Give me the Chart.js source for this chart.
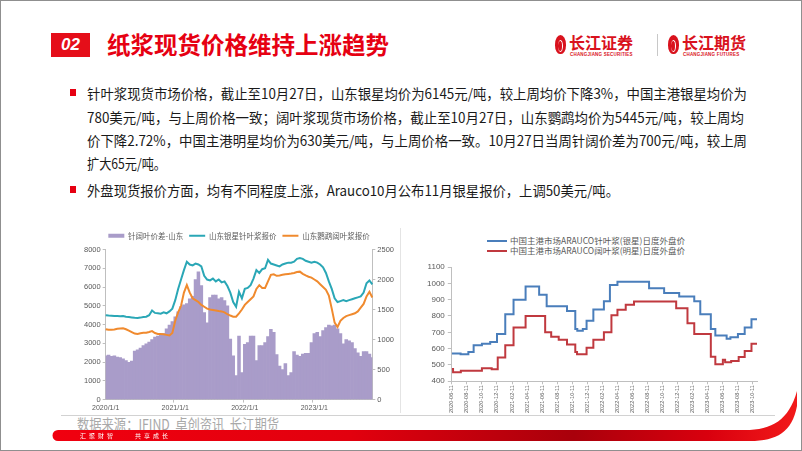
<!DOCTYPE html>
<html>
<head>
<meta charset="utf-8">
<script src="https://cdn.jsdelivr.net/npm/chart.js@4.4.0/dist/chart.umd.min.js"></script>
<style>
html, body { margin: 0; padding: 0; background: #fff; }
body { width: 802px; height: 451px; position: relative; overflow: hidden; font-family: "Noto Sans CJK SC", "Noto Sans", sans-serif; }
.frame { position: absolute; left: 0; top: 0; width: 800px; height: 449px; border: 1px solid #8f8f8f; }
.num { position: absolute; left: 51px; top: 33px; width: 39px; height: 24px; background: #e50e19; color: #fff;
       font: italic bold 17px "Liberation Sans", sans-serif; line-height: 24px; text-align: center; }
.title { position: absolute; left: 107px; top: 29px; font-size: 23.5px; font-weight: bold; color: #e60012; line-height: 30px; white-space: nowrap; }
.logo { position: absolute; top: 33px; height: 24px; }
.logo .icon { position: absolute; left: 0; top: 2px; width: 11px; height: 19px; border-radius: 50% 50% 45% 45%; background: #d9121d; }
.logo .icon:after { content: ""; position: absolute; left: 3px; top: 5px; width: 4px; height: 10px; border-radius: 50%; border: 1px solid #fff; border-left: none; }
.logo .cn { position: absolute; left: 14px; top: -2px; font-size: 16px; font-weight: bold; color: #d9121d; white-space: nowrap; line-height: 22px; }
.logo .en { position: absolute; left: 15px; top: 19px; font: bold 4.5px "Liberation Sans", sans-serif; color: #d9121d; white-space: nowrap; letter-spacing: 0.2px; }
.sep { position: absolute; left: 657px; top: 34px; width: 1px; height: 22px; background: #c8c8c8; }
.line { position: absolute; left: 87px; font-size: 14px; color: #1a1a1a; white-space: nowrap; line-height: 20px; transform-origin: 0 50%; }
.bullet { position: absolute; left: 70px; width: 6px; height: 7px; background: #e60012; }
#leftChart { position: absolute; left: 80px; top: 226px; }
#rightChart { position: absolute; left: 400px; top: 256px; }
.rbox { position: absolute; left: 400px; top: 228px; width: 1px; height: 185px; background: #e4e4e4; }
.rlegend { position: absolute; left: 487px; font-size: 8.5px; color: #595959; white-space: nowrap; line-height: 10px; }
.rlegend i { display: inline-block; width: 20px; height: 2px; vertical-align: middle; margin-right: 3px; position: relative; top: -1px; }
.rule { position: absolute; left: 61px; top: 415px; width: 714px; height: 1px; background: #d2d2d2; }
.source { position: absolute; left: 77px; top: 414px; font-size: 15px; color: #a9a9a9; white-space: nowrap; line-height: 20px; transform-origin: 0 50%; }
.band { position: absolute; left: 0; top: 380px; }
.motto { position: absolute; top: 432px; font-size: 6px; color: #fff; letter-spacing: 3px; white-space: nowrap; line-height: 8px; }
</style>
</head>
<body>
<div class="frame"></div>

<div class="num">02</div>
<div class="title">纸浆现货价格维持上涨趋势</div>
<div class="logo" style="left:555px"><div class="icon"></div><div class="cn">长江证券</div><div class="en">CHANGJIANG SECURITIES</div></div>
<div class="sep"></div>
<div class="logo" style="left:668px"><div class="icon"></div><div class="cn">长江期货</div><div class="en">CHANGJIANG FUTURES</div></div>

<div class="bullet" style="top:89px"></div>
<div class="line" data-w="660" style="top:83px">针叶浆现货市场价格，截止至10月27日，山东银星均价为6145元/吨，较上周均价下降3%，中国主港银星均价为</div>
<div class="line" data-w="657" style="top:107px">780美元/吨，与上周价格一致；阔叶浆现货市场价格，截止至10月27日，山东鹦鹉均价为5445元/吨，较上周均</div>
<div class="line" data-w="660" style="top:130px">价下降2.72%，中国主港明星均价为630美元/吨，与上周价格一致。10月27日当周针阔价差为700元/吨，较上周</div>
<div class="line" data-w="79" style="top:153px">扩大65元/吨。</div>
<div class="bullet" style="top:186px"></div>
<div class="line" data-w="532" style="top:180px">外盘现货报价方面，均有不同程度上涨，Arauco10月公布11月银星报价，上调50美元/吨。</div>

<canvas id="leftChart" width="320" height="187"></canvas>

<div class="rbox"></div>
<div class="rlegend" style="top:235px"><i style="background:#4a7ebb"></i>中国主港市场ARAUCO针叶浆(银星)日度外盘价</div>
<div class="rlegend" style="top:245px"><i style="background:#c0393f"></i>中国主港市场ARAUCO阔叶浆(明星)日度外盘价</div>
<canvas id="rightChart" width="375" height="158"></canvas>

<div class="rule"></div>
<div class="source" data-w="202">数据来源：IFIND&nbsp; 卓创资讯&nbsp; 长江期货</div>

<svg class="band" width="802" height="71" viewBox="0 380 802 71">
  <defs>
    <linearGradient id="bandGrad" x1="0" y1="0" x2="1" y2="0">
      <stop offset="0" stop-color="#f0000f"/>
      <stop offset="0.4" stop-color="#e2000e"/>
      <stop offset="0.7" stop-color="#a9000b"/>
      <stop offset="0.88" stop-color="#d9000e"/>
      <stop offset="1" stop-color="#f21a1a"/>
    </linearGradient>
  </defs>
  <path d="M58 430 H745 C772 430 789 420 797 391 L797 406 C792 432 777 441 750 441 H58 A5.5 5.5 0 0 1 58 430 Z" fill="url(#bandGrad)"/>
</svg>
<div class="motto" style="left:80px">汇聚财智</div>
<div class="motto" style="left:135px">共享成长</div>

<script>
// left chart: Shandong spot prices, half-monthly
var leftDates = [
  '2020/1/1','2020/1/16','2020/2/1','2020/2/16','2020/3/1','2020/3/16','2020/4/1','2020/4/16','2020/5/1','2020/5/16','2020/6/1','2020/6/16',
  '2020/7/1','2020/7/16','2020/8/1','2020/8/16','2020/9/1','2020/9/16','2020/10/1','2020/10/16','2020/11/1','2020/11/16','2020/12/1','2020/12/16',
  '2021/1/1','2021/1/16','2021/2/1','2021/2/16','2021/3/1','2021/3/16','2021/4/1','2021/4/16','2021/5/1','2021/5/16','2021/6/1','2021/6/16',
  '2021/7/1','2021/7/16','2021/8/1','2021/8/16','2021/9/1','2021/9/16','2021/10/1','2021/10/16','2021/11/1','2021/11/16','2021/12/1','2021/12/16',
  '2022/1/1','2022/1/16','2022/2/1','2022/2/16','2022/3/1','2022/3/16','2022/4/1','2022/4/16','2022/5/1','2022/5/16','2022/6/1','2022/6/16',
  '2022/7/1','2022/7/16','2022/8/1','2022/8/16','2022/9/1','2022/9/16','2022/10/1','2022/10/16','2022/11/1','2022/11/16','2022/12/1','2022/12/16',
  '2023/1/1','2023/1/16','2023/2/1','2023/2/16','2023/3/1','2023/3/16','2023/4/1','2023/4/16','2023/5/1','2023/5/16','2023/6/1','2023/6/16',
  '2023/7/1','2023/7/16','2023/8/1','2023/8/16','2023/9/1','2023/9/16','2023/10/1','2023/10/16','2023/10/27'
];
var leftTicks = ['2020/1/1', '2021/1/1', '2022/1/1', '2023/1/1'];

// 针阔叶价差-山东 (right axis)
var spreadSD = [
  730, 740, 720, 730, 710, 700, 680, 650, 620, 640, 810, 830,
  860, 900, 930, 960, 1000, 1040, 1060, 1080, 1100, 1180, 1240, 1300,
  1380, 1460, 1550, 1580, 1600, 1680, 1720, 2000, 2130, 1900, 1450, 1280,
  1700, 1740, 1740, 1680, 1700, 1650, 1560, 1010, 730, 400, 1060, 450,
  920, 950, 1060, 1060, 650, 900, 900, 950, 1050, 1170, 1120, 750,
  560, 500, 600, 400, 450, 800, 740, 720, 760, 770, 770, 950,
  1100, 1120, 1050, 1150, 1200, 1240, 1230, 1240, 1180, 1100, 930, 1000,
  980, 950, 850, 780, 720, 800, 800, 760, 700
];
// 山东银星针叶浆报价
var needleSD = [
  4500, 4480, 4470, 4450, 4460, 4440, 4450, 4420, 4400, 4380, 4360, 4350,
  4370, 4400, 4420, 4500, 4750, 4620, 4600, 4580, 4650, 4600, 4700, 4850,
  5300, 5900, 6400, 6900, 7350, 7200, 7150, 7250, 7200, 7100, 6600, 6400,
  6350, 6450, 6300, 6400, 6250, 6300, 6050, 5700, 5200, 4950, 5750, 5400,
  5900, 5950, 6100, 6450, 6900, 6750, 6950, 7000, 7450, 7250, 7200, 7150,
  7100, 7200, 7250, 7300, 7300, 7350, 7500, 7550, 7500, 7400, 7350, 7300,
  7350, 7300, 7200, 7050, 6750, 6300, 5900, 5400, 5200, 5250, 5300, 5250,
  5300, 5350, 5400, 5450, 5500, 5700, 6200, 6350, 6145
];
// 山东鹦鹉阔叶浆报价
var hardSD = [
  3750, 3720, 3720, 3740, 3780, 3790, 3800, 3750, 3680, 3600, 3520, 3500,
  3540, 3560, 3560, 3600, 3650, 3550, 3500, 3500, 3480, 3450, 3420, 3550,
  4200, 4650, 5000, 5700, 6100, 5700, 5400, 5300, 5200, 5050, 4950, 4850,
  4800, 4780, 4750, 4720, 4700, 4650, 4550, 4480, 4420, 4420, 4600, 4800,
  5050, 5200, 5350, 5500, 5900, 6100, 5950, 5950, 6300, 6650, 6680, 6600,
  6620, 6650, 6680, 6700, 6720, 6750, 6800, 6820, 6700, 6620, 6550, 6500,
  6400, 6300, 6150, 6000, 5850, 5550, 4850, 4100, 3870, 4200, 4350, 4450,
  4500, 4550, 4600, 4700, 4900, 5100, 5500, 5750, 5445
];

// right chart: Arauco CFR China, step changes (date the new price starts)
var needleDates = ['2020-06-11','2020-07-16','2020-08-17','2020-09-08','2020-10-11','2020-11-14','2020-12-11','2021-01-14','2021-02-17',
  '2021-04-05','2021-05-29','2021-06-29','2021-09-20','2021-10-23','2021-11-01','2021-11-23','2021-12-08','2022-01-05','2022-02-17',
  '2022-03-11','2022-04-11','2022-08-17','2022-10-17','2022-12-17','2023-02-17','2023-03-11','2023-04-23','2023-05-11','2023-06-26',
  '2023-07-11','2023-08-11','2023-09-08','2023-10-05','2023-10-27'];
var needleCFR = [570, 565, 580, 620, 630, 640, 690, 810, 900,
  980, 930, 860, 830, 720, 710, 720, 770, 840, 890,
  990, 1010, 970, 940, 920, 890, 810, 720, 680, 660,
  670, 690, 730, 780, 780];
var hardDates = ['2020-06-11','2020-06-16','2020-07-17','2020-10-11','2020-11-20','2020-12-14','2021-01-14','2021-02-17','2021-04-05',
  '2021-06-23','2021-07-17','2021-08-17','2021-09-20','2021-10-23','2021-10-30','2021-12-08','2022-01-05','2022-02-17','2022-03-17',
  '2022-04-11','2022-05-14','2022-06-17','2022-12-05','2023-01-20','2023-02-17','2023-04-23','2023-05-11','2023-06-11','2023-06-20',
  '2023-07-14','2023-08-14','2023-09-08','2023-10-05','2023-10-27'];
var hardCFR = [475, 455, 465, 480, 473, 545, 620, 730, 800,
  700, 672, 655, 625, 580, 565, 605, 655, 700, 805,
  838, 868, 888, 848, 755, 690, 550, 505, 532, 517,
  524, 549, 585, 630, 630];
var rightTicks = ['2020-06-11','2020-08-11','2020-10-11','2020-12-11','2021-02-11','2021-04-11','2021-06-11','2021-08-11','2021-10-11',
  '2021-12-11','2022-02-11','2022-04-11','2022-06-11','2022-08-11','2022-10-11','2022-12-11','2023-02-11','2023-04-11','2023-06-11',
  '2023-08-11','2023-10-11'];

// months after 2020-06-11
function monthsFrom(d) {
  var p = d.split('-');
  return (+p[0] - 2020) * 12 + (+p[1] - 6) + (+p[2] - 11) / 30;
}
function toPoints(dates, vals) {
  return dates.map(function (d, i) { return {x: monthsFrom(d), y: vals[i]}; });
}
function plainNum(v) { return String(v); }

Chart.defaults.font.family = '"Liberation Sans", "Noto Sans CJK SC", sans-serif';
Chart.defaults.color = '#595959';

var legendStyles = ['rect', 'line', 'line'];

new Chart(document.getElementById('leftChart'), {
    type: 'bar',
    data: {
        labels: leftDates,
        datasets: [{
            type: 'bar',
            label: '针阔叶价差-山东',
            data: spreadSD,
            yAxisID: 'y1',
            backgroundColor: '#a99cc9',
            barPercentage: 1,
            categoryPercentage: 1,
            order: 2
        }, {
            type: 'line',
            label: '山东银星针叶浆报价',
            data: needleSD,
            yAxisID: 'y',
            borderColor: '#2aa7b6',
            backgroundColor: '#2aa7b6',
            borderWidth: 2,
            pointRadius: 0,
            tension: 0,
            order: 1
        }, {
            type: 'line',
            label: '山东鹦鹉阔叶浆报价',
            data: hardSD,
            yAxisID: 'y',
            borderColor: '#f08a2e',
            backgroundColor: '#f08a2e',
            borderWidth: 2,
            pointRadius: 0,
            tension: 0,
            order: 1
        }]
    },
    options: {
        responsive: false,
        animation: false,
        layout: {padding: {left: 2, right: 4, top: 0, bottom: 0}},
        plugins: {
            tooltip: {enabled: false},
            legend: {
                labels: {
                    usePointStyle: true,
                    pointStyleWidth: 16,
                    boxHeight: 4,
                    padding: 6,
                    color: '#595959',
                    font: {size: 7.5, family: '"Noto Sans CJK SC", sans-serif'},
                    sort: function (a, b) { return a.datasetIndex - b.datasetIndex; },
                    generateLabels: function (chart) {
                        var items = Chart.defaults.plugins.legend.labels.generateLabels(chart);
                        items.forEach(function (it) {
                            it.pointStyle = legendStyles[it.datasetIndex];
                            if (it.datasetIndex === 0) it.lineWidth = 0;
                        });
                        return items;
                    }
                }
            }
        },
        scales: {
            x: {
                offset: false,
                border: {color: '#bfbfbf'},
                grid: {
                    drawOnChartArea: false,
                    tickLength: 3,
                    color: function (c) {
                        return leftTicks.indexOf(leftDates[c.index]) >= 0 ? '#bfbfbf' : 'rgba(0,0,0,0)';
                    }
                },
                ticks: {
                    autoSkip: false,
                    maxRotation: 0,
                    padding: 1,
                    font: {size: 7},
                    callback: function (v, i) {
                        return leftTicks.indexOf(leftDates[i]) >= 0 ? leftDates[i] : '';
                    }
                }
            },
            y: {
                min: 0, max: 8000,
                border: {color: '#bfbfbf'},
                grid: {drawOnChartArea: false, tickLength: 3, color: '#bfbfbf'},
                ticks: {stepSize: 1000, padding: 2, font: {size: 7.5}, callback: plainNum}
            },
            y1: {
                position: 'right',
                min: 0, max: 2500,
                border: {color: '#bfbfbf'},
                grid: {drawOnChartArea: false, tickLength: 3, color: '#bfbfbf'},
                ticks: {stepSize: 500, padding: 2, font: {size: 7.5}, callback: plainNum}
            }
        }
    }
});

var tickMonths = rightTicks.map(monthsFrom);

new Chart(document.getElementById('rightChart'), {
    type: 'line',
    data: {
        datasets: [{
            label: '中国主港市场ARAUCO针叶浆(银星)日度外盘价',
            data: toPoints(needleDates, needleCFR),
            borderColor: '#4a7ebb',
            borderWidth: 2,
            pointRadius: 0,
            stepped: 'before'
        }, {
            label: '中国主港市场ARAUCO阔叶浆(明星)日度外盘价',
            data: toPoints(hardDates, hardCFR),
            borderColor: '#c0393f',
            borderWidth: 2,
            pointRadius: 0,
            stepped: 'before'
        }]
    },
    options: {
        responsive: false,
        animation: false,
        layout: {padding: {left: 24, right: 18, top: 11, bottom: 0}},
        plugins: {legend: {display: false}, tooltip: {enabled: false}},
        scales: {
            x: {
                type: 'linear',
                min: 0,
                max: monthsFrom('2023-10-27'),
                border: {color: '#bfbfbf'},
                grid: {drawOnChartArea: false, tickLength: 3, color: '#bfbfbf'},
                afterBuildTicks: function (scale) {
                    scale.ticks = tickMonths.map(function (v) { return {value: v}; });
                },
                ticks: {
                    minRotation: 90,
                    maxRotation: 90,
                    padding: 1,
                    font: {size: 5.5},
                    callback: function (v, i) { return rightTicks[i]; }
                }
            },
            y: {
                min: 400, max: 1100,
                border: {color: '#bfbfbf'},
                grid: {drawOnChartArea: false, tickLength: 4, color: '#bfbfbf'},
                ticks: {stepSize: 100, padding: 3, font: {size: 8}, callback: plainNum}
            }
        }
    }
});

// stretch each text line to its width on the slide
function fitLines() {
    document.querySelectorAll('[data-w]').forEach(function (el) {
        el.style.transform = '';
        var w = el.getBoundingClientRect().width;
        el.style.transform = 'scaleX(' + (+el.getAttribute('data-w') / w) + ')';
    });
}
fitLines();
if (document.fonts) document.fonts.ready.then(fitLines);
</script>
</body>
</html>
